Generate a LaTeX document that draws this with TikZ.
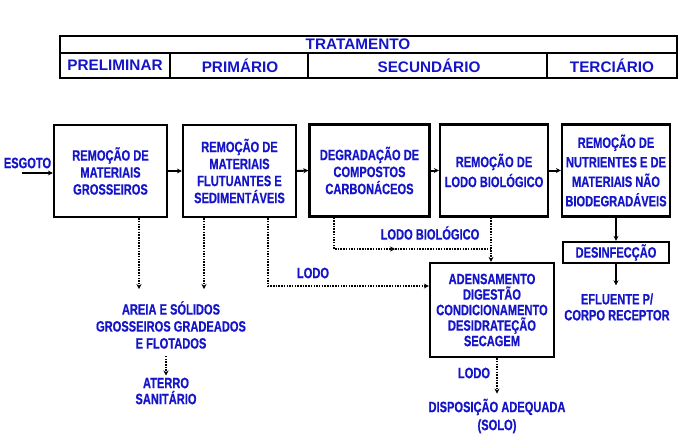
\documentclass[tikz,border=0pt]{standalone}
\usepackage{fontspec}
\setmainfont{Liberation Sans}
\newfontfamily\narrowsans{Liberation Sans}[FakeStretch=0.74,BoldFeatures={FakeBold=0.5}]
\usepackage{tikz}
\usetikzlibrary{arrows.meta,positioning}
\definecolor{etblue}{HTML}{1414C8}
\definecolor{etink}{HTML}{000000}

\begin{document}
\begin{tikzpicture}[x=1pt,y=-1pt,
    proc/.style={draw=etink,line width=2.2pt,align=center,inner sep=2pt,text=etblue,font=\narrowsans\bfseries\fontsize{15}{17}\selectfont},
    lbl/.style={align=center,inner sep=1pt,text=etblue,font=\narrowsans\bfseries\fontsize{15}{17}\selectfont},
    hdr/.style={inner sep=0pt,text=etblue,font=\bfseries\fontsize{15.3}{18}\selectfont},
    flow/.style={-{Stealth[length=5pt,width=5pt]},line width=2pt,etink},
    side/.style={-{Stealth[length=5pt,width=5pt]},line width=1.6pt,etink,dash pattern=on 1.5pt off 1.2pt}]
  \useasboundingbox (0,0) rectangle (685,437);

  % tabela de fases do tratamento
  \draw[etink,line width=2pt] (60,36) rectangle (677,78);
  \draw[etink,line width=2pt] (60,53) -- (677,53);
  \foreach \cx in {170,308,547}
    \draw[etink,line width=2pt] (\cx,53) -- (\cx,78);
  \node[hdr] (trat) at (358,44.5) {TRATAMENTO};
  \node[hdr] (prel) at (115,65.5) {PRELIMINAR};
  \node[hdr] (prim) at (240,65.5) {PRIMÁRIO};
  \node[hdr] (secu) at (429,65.5) {SECUNDÁRIO};
  \node[hdr] (terc) at (612,65.5) {TERCIÁRIO};

  % etapas
  \node[proc,minimum width=113,minimum height=92] (b1) at (110.5,171) {REMOÇÃO DE\\MATERIAIS\\GROSSEIROS};
  \node[proc,minimum width=113,minimum height=92] (b2) at (239.5,171) {REMOÇÃO DE\\MATERIAIS\\FLUTUANTES E\\SEDIMENTÁVEIS};
  \node[proc,minimum width=120,minimum height=92] (b3) at (369.5,170.5) {DEGRADAÇÃO DE\\COMPOSTOS\\CARBONÁCEOS};
  \node[proc,minimum width=108,minimum height=92] (b4) at (494,170.5) {REMOÇÃO DE\\[3pt]LODO BIOLÓGICO};
  \node[proc,minimum width=108,minimum height=92] (b5) at (616,170.5) {REMOÇÃO DE\\[2.5pt]NUTRIENTES E DE\\[2.5pt]MATERIAIS NÃO\\[2.5pt]BIODEGRADÁVEIS};
  \node[proc,minimum width=106,minimum height=21] (desinf) at (616,252.5) {DESINFECÇÃO};
  \node[proc,minimum width=124,minimum height=94,font=\narrowsans\bfseries\fontsize{15}{15.5}\selectfont] (b6) at (492,310) {ADENSAMENTO\\DIGESTÃO\\CONDICIONAMENTO\\DESIDRATEÇÃO\\SECAGEM};

  % textos soltos
  \node[lbl] (esgoto) at (27.5,163) {ESGOTO};
  \node[lbl] (areia) at (171,325) {AREIA E SÓLIDOS\\GROSSEIROS GRADEADOS\\E FLOTADOS};
  \node[lbl] (aterro) at (166,391) {ATERRO\\[-1pt]SANITÁRIO};
  \node[lbl] (efl) at (617,307) {EFLUENTE P/\\[-1pt]CORPO RECEPTOR};
  \node[lbl] (disp) at (497,416) {DISPOSIÇÃO ADEQUADA\\[1pt](SOLO)};
  \node[lbl] (lodo1) at (313,273) {LODO};
  \node[lbl] (lodobio) at (430,233) {LODO BIOLÓGICO};
  \node[lbl] (lodo2) at (474,373) {LODO};

  % fluxo principal
  \coordinate (entra) at (22,173);
  \draw[flow] (entra) -- (entra -| b1.west);
  \draw[flow] (b1.east) -- (b2.west);
  \draw[flow] (b2.east) -- (b3.west);
  \draw[flow] (b3.east) -- (b4.west);
  \draw[flow] (b4.east) -- (b5.west);
  \draw[flow] (b5.south) -- (desinf.north);
  \draw[flow,shorten >=7pt] (desinf.south) -- (desinf.south |- efl.north);

  % residuos e lodo
  \coordinate (sobA) at (139,289);
  \coordinate (sobB) at (204,289);
  \draw[side] (b1.south -| sobA) -- (sobA);
  \draw[side] (b2.south -| sobB) -- (sobB);
  \draw[side,shorten <=6pt,shorten >=1pt] (aterro.north |- areia.south) -- (aterro.north);
  \coordinate (lodoA) at (268,286);
  \draw[side] (b2.south -| lodoA) -- (lodoA) -- (lodoA -| b6.west);
  \coordinate (bioA) at (334,249);
  \coordinate (bioM) at (395,249);
  \coordinate (bioB) at (491,249);
  \draw[side] (b3.south -| bioA) -- (bioA) -- (bioM);
  \draw[side,-] (bioM) -- (bioB);
  \draw[side] (b4.south -| bioB) -- (b6.north -| bioB);
  \draw[side,shorten >=4pt] (b6.south -| disp.north) -- (disp.north);
\end{tikzpicture}
\end{document}
